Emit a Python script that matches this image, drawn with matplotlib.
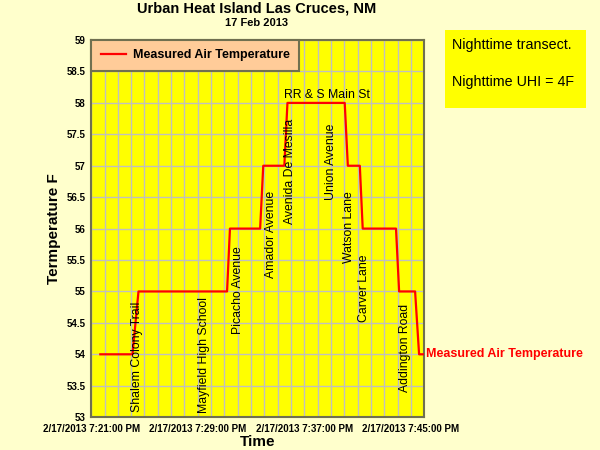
import matplotlib.pyplot as plt
import matplotlib.dates as mdates
from matplotlib.patches import Rectangle
from datetime import datetime
import numpy as np

plt.rcParams['font.family'] = ['Liberation Sans', 'DejaVu Sans']

day = "2013-02-17 "
times = ["19:21:41", "19:24:06", "19:24:33", "19:31:12", "19:31:25", "19:33:41",
         "19:33:55", "19:35:30", "19:35:44", "19:40:02", "19:40:16", "19:41:10",
         "19:41:23", "19:43:53", "19:44:07", "19:45:19", "19:45:37", "19:46:00"]
temps = [54, 54, 55, 55, 56, 56, 57, 57, 58, 58, 57, 57, 56, 56, 55, 55, 54, 54]

# street labels: (name, time, temperature at bottom of text)
streets = ["Shalem Colony Trail", "Mayfield High School", "Picacho Avenue",
           "Amador Avenue", "Avenida De Mesilla", "Union Avenue",
           "Watson Lane", "Carver Lane", "Addington Road"]
street_times = ["19:24:28", "19:29:28", "19:32:02", "19:34:31", "19:35:57",
                "19:38:58", "19:40:20", "19:41:28", "19:44:34"]
street_temps = [53.08, 53.06, 54.33, 55.22, 56.08, 56.46, 55.46, 54.51, 53.40]

tick_times = ["19:21:00", "19:29:00", "19:37:00", "19:45:00"]

def to_dt(s):
    return datetime.strptime(day + s, "%Y-%m-%d %H:%M:%S")

x = [to_dt(t) for t in times]

fig = plt.figure(figsize=(6, 4.5), dpi=100, facecolor='#FFFFCC')
ax = fig.add_axes([0.152, 0.073, 0.555, 0.838])
ax.set_facecolor('#FFFF00')

line, = ax.plot(x, temps, color='#FF0000', lw=1.6, label='Measured Air Temperature', zorder=3)

ax.set_ylim(53, 59)
ax.set_xlim(to_dt("19:21:00"), to_dt("19:46:00"))
ax.set_yticks(np.arange(53, 59.01, 0.5))
ax.set_yticklabels(["53", "53.5", "54", "54.5", "55", "55.5", "56", "56.5",
                    "57", "57.5", "58", "58.5", "59"])
ax.set_xticks([to_dt(t) for t in tick_times])
ax.set_xticklabels(["2/17/2013 " + datetime.strptime(t, "%H:%M:%S").strftime("%-I:%M:%S %p")
                    for t in tick_times])
ax.xaxis.set_minor_locator(mdates.MinuteLocator())
ax.grid(True, which='both', axis='x', color='#C0C0C0', lw=1)
ax.grid(True, which='major', axis='y', color='#C0C0C0', lw=1)
ax.set_axisbelow(True)
ax.tick_params(length=0, which='both', labelsize=7)
for lab in ax.get_xticklabels() + ax.get_yticklabels():
    lab.set_fontweight('bold')
ax.tick_params(axis='x', pad=5)
ax.tick_params(axis='y', pad=4)
for sp in ax.spines.values():
    sp.set_color('#707050')
    sp.set_linewidth(1.5)

ax.set_xlabel("Time", fontsize=11, fontweight='bold', labelpad=1)
ax.set_ylabel("Termperature F", fontsize=11, fontweight='bold', labelpad=4)

fig.text(0.428, 0.981, "Urban Heat Island Las Cruces, NM", fontsize=10.5,
         fontweight='bold', ha='center', va='center')
fig.text(0.428, 0.948, "17 Feb 2013", fontsize=8, fontweight='bold', ha='center', va='center')

for name, t, tp in zip(streets, street_times, street_temps):
    ax.text(to_dt(t), tp, name, rotation=90, ha='center', va='bottom', fontsize=8.8)
ax.text(to_dt("19:38:40"), 58.03, "RR & S Main St", ha='center', va='bottom', fontsize=8.8)

ax.text(to_dt("19:46:10"), 54, "Measured Air Temperature", color='#FF0000',
        fontsize=9, fontweight='bold', va='center', ha='left', clip_on=False)

leg = ax.legend(loc='upper left', bbox_to_anchor=(0, 1), borderaxespad=0,
                prop={'weight': 'bold', 'size': 9}, fancybox=False,
                facecolor='#FFCC99', edgecolor='#707050', framealpha=1,
                handlelength=2.0, handletextpad=0.6, borderpad=0.75)
leg.get_frame().set_linewidth(1.5)

fig.patches.append(Rectangle((445 / 600, 1 - 108 / 450), 141 / 600, 78 / 450,
                             transform=fig.transFigure, facecolor='#FFFF00',
                             edgecolor='none'))
fig.text(452 / 600, 1 - 45 / 450, "Nighttime transect.", fontsize=10.3, va='center', ha='left')
fig.text(452 / 600, 1 - 82 / 450, "Nighttime UHI = 4F", fontsize=10.3, va='center', ha='left')

fig.savefig("out.png", dpi=100, facecolor=fig.get_facecolor())
